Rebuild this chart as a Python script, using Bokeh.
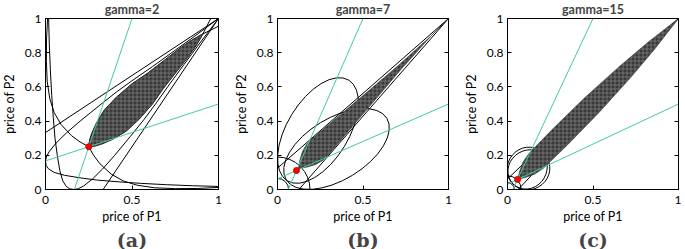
from bokeh.plotting import figure
from bokeh.layouts import row
from bokeh.models import Range1d, LinearAxis, FixedTicker, Title
from bokeh.embed import file_html
from bokeh.resources import INLINE
import math

GAMMAS = [2, 7, 15]
PANEL_LABELS = ["(a)", "(b)", "(c)"]
X_TICKS = [0, 0.5, 1]
Y_TICKS = [0, 0.2, 0.4, 0.6, 0.8, 1]
X_LABEL = "price of P1"
Y_LABEL = "price of P2"

# ---- panel (a), gamma = 2 ----
a_nash = [0.25, 0.25]
a_green_x = [0.167, 0.5]
a_green_y = [0.0, 1.0]
a_zero_x = [0.333, 1.0]
a_zero_y = [0.0, 1.0]
a_u_x = [0.018, 0.022, 0.028, 0.036, 0.045, 0.055, 0.068, 0.083, 0.1, 0.12, 0.14, 0.166,
         0.19, 0.22, 0.27, 0.33, 0.4, 0.49, 0.57, 0.636, 0.72, 0.8, 0.88, 0.94, 1.0]
a_u_y = [1.0, 0.85, 0.7, 0.55, 0.42, 0.3, 0.2, 0.11, 0.05, 0.018, 0.004, 0.0,
         0.005, 0.02, 0.06, 0.12, 0.2, 0.31, 0.41, 0.5, 0.62, 0.73, 0.84, 0.92, 1.0]
a_nl_x = [0.012, 0.006, 0.005, 0.01, 0.025, 0.05, 0.09, 0.15, 0.2, 0.25]
a_nl_y = [1.0, 0.88, 0.75, 0.63, 0.53, 0.45, 0.38, 0.315, 0.278, 0.25]
a_lens_x = [0.25, 0.29, 0.33, 0.39, 0.465, 0.54, 0.618, 0.68, 0.75, 0.82, 0.87, 0.905]
a_lens_y = [0.25, 0.255, 0.268, 0.295, 0.34, 0.41, 0.5, 0.59, 0.68, 0.77, 0.84, 0.9]
a_tail_x = [0.905, 0.93, 0.955]
a_tail_y = [0.9, 0.95, 1.0]

# ---- panel (b), gamma = 7 ----
b_nash = [0.111, 0.111]
b_green_x = [0.0625, 0.5]
b_green_y = [0.0, 1.0]
b_zero_x = [0.125, 1.0]
b_zero_y = [0.0, 1.0]
b_ell = dict(cx=0.345, cy=0.237, w=0.69, h=0.36, ang=31.4)
b_small_r = [0.19, 0.065]
b_lens_x = [0.111, 0.135, 0.17, 0.22, 0.265, 0.295, 0.38, 0.465, 0.55, 0.635, 0.72, 0.81, 0.9, 1.0]
b_lens_y = [0.111, 0.125, 0.13, 0.145, 0.17, 0.2, 0.3, 0.4, 0.5, 0.6, 0.7, 0.8, 0.9, 1.0]

# ---- panel (c), gamma = 15 ----
c_nash = [0.059, 0.059]
c_green_x = [0.031, 0.5]
c_green_y = [0.0, 1.0]
c_zero_x = [0.0625, 1.0]
c_zero_y = [0.0, 1.0]
c_ell = dict(cx=0.125, cy=0.115, w=0.25, h=0.23, ang=30.0)
c_small_r = [0.08, 0.04]
c_lens_x = [0.059, 0.075, 0.11, 0.16, 0.21, 0.35, 0.535, 0.72, 0.86, 1.0]
c_lens_y = [0.059, 0.063, 0.072, 0.09, 0.125, 0.26, 0.45, 0.655, 0.82, 1.0]

GREEN = "#3fc9a6"
FONT = "Lato"


def style_axis(ax, label_size="12px"):
    ax.major_tick_in = 4
    ax.major_tick_out = 0
    ax.minor_tick_line_color = None
    ax.major_label_text_font = FONT
    ax.major_label_text_font_size = label_size
    ax.axis_label_text_font = FONT
    ax.axis_label_text_font_size = "12.5px"
    ax.axis_label_text_font_style = "normal"
    ax.axis_line_color = "black"
    ax.major_tick_line_color = "black"
    ax.major_label_text_color = "black"
    ax.axis_label_text_color = "black"


def make_panel(gamma, label, fw, left, right):
    p = figure(frame_width=fw, frame_height=171, x_range=Range1d(0, 1), y_range=Range1d(0, 1),
               output_backend="svg", toolbar_location=None,
               min_border_left=left, min_border_right=right, min_border_top=18, min_border_bottom=10)
    p.title.text = "gamma=%d" % gamma
    p.title.align = "center"
    p.title.text_font = FONT
    p.title.text_font_size = "12.5px"
    p.title.text_font_style = "bold"
    p.title.standoff = 3
    p.grid.visible = False
    p.outline_line_color = "black"
    p.background_fill_color = "white"
    p.border_fill_color = "white"
    p.xaxis.ticker = FixedTicker(ticks=X_TICKS)
    p.yaxis.ticker = FixedTicker(ticks=Y_TICKS)
    p.xaxis.major_label_overrides = {0: "0", 0.5: "0.5", 1: "1"}
    p.yaxis.major_label_overrides = {0: "0", 0.2: "0.2", 0.4: "0.4", 0.6: "0.6", 0.8: "0.8", 1: "1"}
    p.xaxis.axis_label = X_LABEL
    p.yaxis.axis_label = Y_LABEL
    for ax in p.xaxis + p.yaxis:
        style_axis(ax)
    p.xaxis.major_label_standoff = 6
    p.yaxis.major_label_standoff = 4
    p.xaxis.axis_label_standoff = 2
    p.yaxis.axis_label_standoff = 5
    rax = LinearAxis(ticker=FixedTicker(ticks=Y_TICKS))
    p.add_layout(rax, "right")
    style_axis(rax, "1px")
    rax.major_label_text_color = None
    rax.major_label_standoff = 0
    t = Title(text=label, align="center", text_font="DejaVu Serif", text_font_size="19px",
              text_font_style="bold", standoff=0)
    p.add_layout(t, "below")
    return p


def mirror(xs, ys):
    return list(ys), list(xs)


def draw_lens(p, lx, ly):
    ux, uy = mirror(lx, ly)
    px = list(lx) + list(reversed(ux))
    py = list(ly) + list(reversed(uy))
    p.patch(px, py, fill_color="#3a3a3a", line_color="#2a2a2a", line_width=0.5,
            hatch_pattern="+", hatch_color="#8c8c8c", hatch_scale=4, hatch_weight=0.6)


def draw_pair_line(p, xs, ys, color, width=1.0):
    p.line(xs, ys, line_color=color, line_width=width)
    mx, my = mirror(xs, ys)
    p.line(mx, my, line_color=color, line_width=width)


def draw_ellipse_pair(p, e):
    a = math.radians(e["ang"])
    p.ellipse(x=[e["cx"], e["cy"]], y=[e["cy"], e["cx"]], width=[e["w"], e["w"]], height=[e["h"], e["h"]],
              angle=[a, math.pi / 2 - a], fill_color=None, line_color="black", line_width=1.0)


# panel a
pa = make_panel(GAMMAS[0], PANEL_LABELS[0], 173, 43, 8)
draw_pair_line(pa, a_zero_x, a_zero_y, "black")
draw_pair_line(pa, a_u_x, a_u_y, "black")
draw_pair_line(pa, a_nl_x + a_lens_x + a_tail_x, a_nl_y + a_lens_y + a_tail_y, "black")
draw_lens(pa, a_lens_x, a_lens_y)
draw_pair_line(pa, a_green_x, a_green_y, GREEN)
pa.scatter([a_nash[0]], [a_nash[1]], size=6, fill_color="red", line_color="#cc0000")

# panel b
pb = make_panel(GAMMAS[1], PANEL_LABELS[1], 171, 51, 8)
draw_pair_line(pb, b_zero_x, b_zero_y, "black")
draw_ellipse_pair(pb, b_ell)
pb.ellipse(x=[0.0] * len(b_small_r), y=[0.0] * len(b_small_r), width=[2 * r for r in b_small_r],
           height=[2 * r for r in b_small_r], fill_color=None, line_color="black")
draw_lens(pb, b_lens_x, b_lens_y)
draw_pair_line(pb, b_green_x, b_green_y, GREEN)
pb.scatter([b_nash[0]], [b_nash[1]], size=6, fill_color="red", line_color="#cc0000")

# panel c
pc = make_panel(GAMMAS[2], PANEL_LABELS[2], 171, 51, 3)
draw_pair_line(pc, c_zero_x, c_zero_y, "black")
draw_ellipse_pair(pc, c_ell)
pc.ellipse(x=[0.0] * len(c_small_r), y=[0.0] * len(c_small_r), width=[2 * r for r in c_small_r],
           height=[2 * r for r in c_small_r], fill_color=None, line_color="black")
draw_lens(pc, c_lens_x, c_lens_y)
draw_pair_line(pc, c_green_x, c_green_y, GREEN)
pc.scatter([c_nash[0]], [c_nash[1]], size=6, fill_color="red", line_color="#cc0000")

layout = row(pa, pb, pc, styles={"margin-left": "-2px", "margin-top": "-2px"})
open("out.html", "w").write(file_html(layout, INLINE))
